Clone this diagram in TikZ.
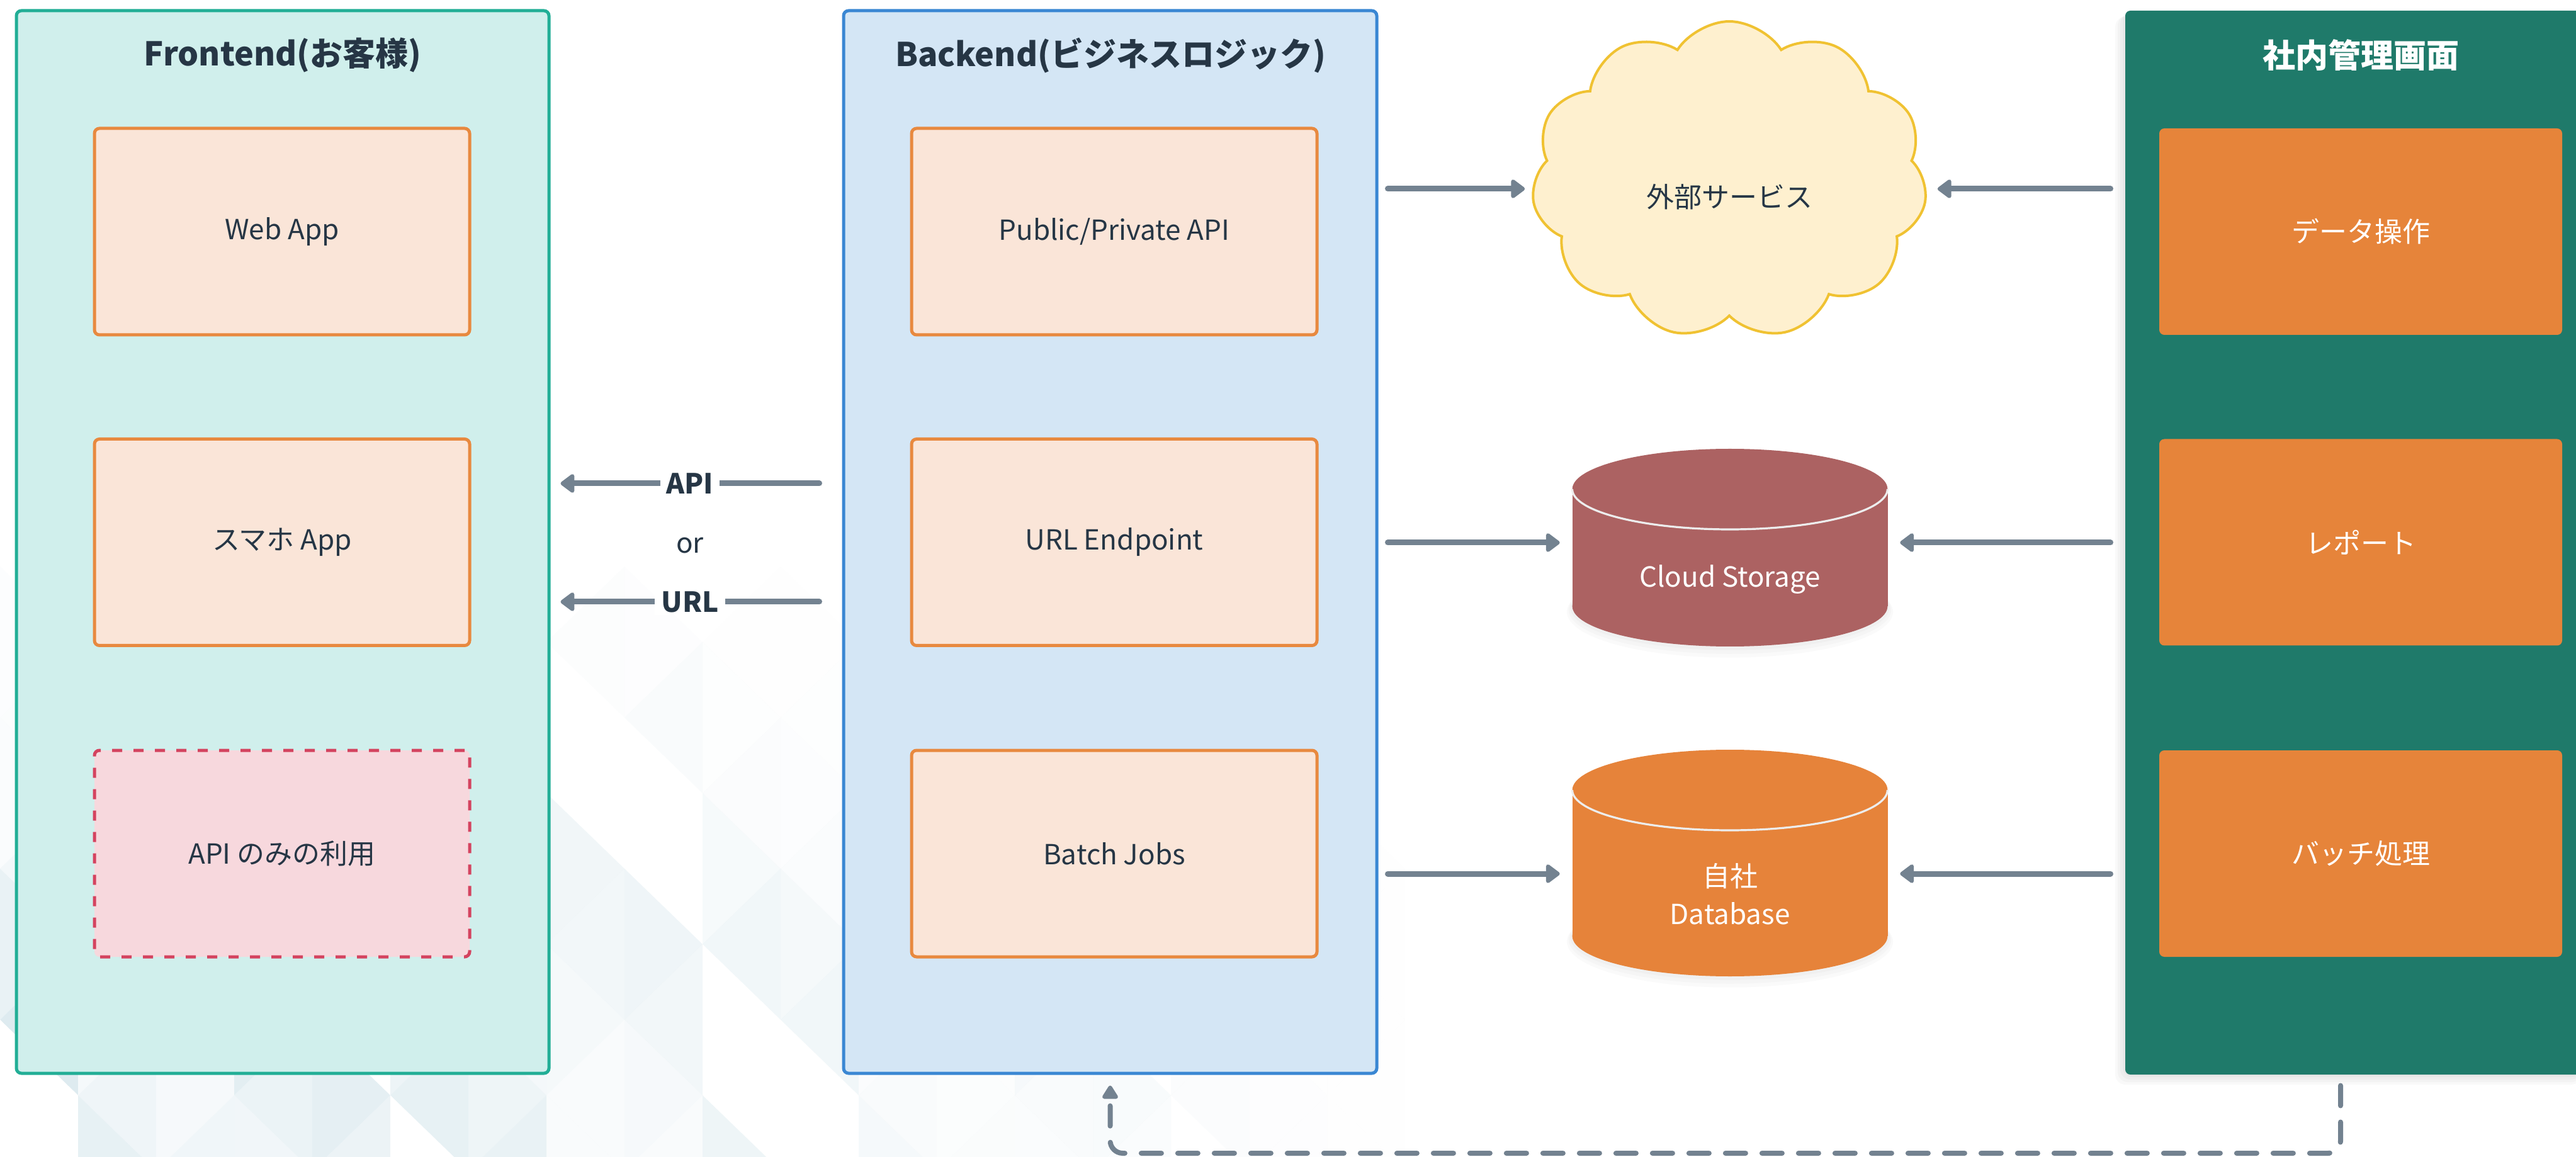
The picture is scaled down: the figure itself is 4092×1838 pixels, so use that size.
\documentclass[tikz,border=0pt]{standalone}
\usepackage{fontspec}
\setmainfont{Noto Sans CJK JP}
\usetikzlibrary{arrows.meta,shapes.symbols,calc}
\definecolor{txt}{HTML}{263645}
\definecolor{frfill}{HTML}{D0EFEC}
\definecolor{frline}{HTML}{22AE96}
\definecolor{bkfill}{HTML}{D4E6F5}
\definecolor{bkline}{HTML}{3A87D3}
\definecolor{boxfill}{HTML}{FAE5D8}
\definecolor{boxline}{HTML}{E8893F}
\definecolor{apifill}{HTML}{F7D8DD}
\definecolor{apiline}{HTML}{D4435F}
\definecolor{admfill}{HTML}{1F7A6A}
\definecolor{admbox}{HTML}{E6843A}
\definecolor{arrcol}{HTML}{738290}
\definecolor{cloudfill}{HTML}{FEF0CF}
\definecolor{cloudline}{HTML}{F0C232}
\definecolor{csfill}{HTML}{AC6262}
\definecolor{dbfill}{HTML}{E6833A}
\definecolor{rimcol}{HTML}{EDEDED}
\definecolor{tone0}{HTML}{FFFFFF}
\definecolor{tone1}{HTML}{EEF5F8}
\definecolor{tone2}{HTML}{E6F0F4}
\definecolor{tone3}{HTML}{DDEBF0}
\definecolor{tone4}{HTML}{F5F9FB}
\tikzset{
  ptitle/.style={font=\bfseries\fontsize{13pt}{15pt}\selectfont, text=txt, inner sep=0pt},
  lbl/.style={font=\fontsize{11pt}{13pt}\selectfont, text=txt},
  panelbox/.style={rounded corners=2pt, line width=1.25pt, minimum height=422pt, inner sep=0pt},
  inbox/.style={rounded corners=2pt, line width=1.25pt, minimum height=82pt, inner sep=0pt,
                font=\fontsize{11pt}{13pt}\selectfont, text=txt},
  admbx/.style={inbox, fill=admbox, minimum width=160pt, text=white},
  arr/.style={draw=arrcol, line width=2.25pt, line cap=round,
              -{Triangle[length=6pt,width=8.5pt,round]}},
  conlbl/.style={fill=white, inner xsep=2.5pt, inner ysep=1pt, text=txt,
                 font=\bfseries\fontsize{11pt}{13pt}\selectfont},
  dconn/.style={draw=arrcol, line width=2pt, line cap=round, rounded corners=5pt,
                dash pattern=on 8pt off 6.5pt, -{Triangle[length=6pt,width=7pt,round]}},
  hidden/.style={inner sep=0pt, draw=none},
}
\newcommand{\mycyl}[4]{%
  \fill[#4] (#1-250.5,#2) rectangle (#1+250.5,#3);
  \fill[#4] (#1,#3) ellipse [x radius=62.6pt, y radius=16pt];
  \fill[#4] (#1,#2) ellipse [x radius=62.6pt, y radius=16pt];
  \draw[rimcol, line width=0.8pt] (#1-250.5,#2) arc [start angle=180, end angle=360, x radius=62.6pt, y radius=16pt];
}
\begin{document}
\begin{tikzpicture}[x=0.25pt, y=-0.25pt]
\useasboundingbox (0,0) rectangle (4092,1838);
\fill[white] (0,0) rectangle (4092,1838);
% faint low-poly background
\begin{scope}
  \clip (0,900) rectangle (2400,1838);
  \foreach \i in {0,...,19} {
    \foreach \j in {-1,...,4} {
      \pgfmathsetmacro{\xl}{\i*124}
      \pgfmathsetmacro{\xr}{\xl+124}
      \pgfmathsetmacro{\yo}{900+\j*240+mod(\i,2)*120}
      \pgfmathtruncatemacro{\ta}{mod(\i*7+\j*3+31,5)}
      \pgfmathtruncatemacro{\tb}{mod(\i*3+\j*7+34,5)}
      \pgfmathsetmacro{\oa}{min(1,max(0,(\yo+120-930)/650))*max(0,1-(\xl+40)/2200)}
      \pgfmathsetmacro{\ob}{min(1,max(0,(\yo+240-930)/650))*max(0,1-(\xl+84)/2200)}
      \fill[color=tone\ta, fill opacity=\oa] (\xl,\yo) -- (\xl,\yo+240) -- (\xr,\yo+120) -- cycle;
      \fill[color=tone\tb, fill opacity=\ob] (\xr,\yo+120) -- (\xr,\yo+360) -- (\xl,\yo+240) -- cycle;
    }
  }
\end{scope}

% panels
\node[panelbox, draw=frline, fill=frfill, minimum width=211.5pt] (front) at (449,861) {};
\node[ptitle] (fronttitle) at (449,88) {Frontend(お客様)};
\node[inbox, draw=boxline, fill=boxfill, minimum width=149pt] (webapp) at (448,368) {Web App};
\node[inbox, draw=boxline, fill=boxfill, minimum width=149pt] (sumaho) at (448,861.5) {スマホ App};
\node[inbox, draw=apiline, fill=apifill, minimum width=149pt, dash pattern=on 4pt off 4.5pt] (apionly) at (448,1356) {API のみの利用};

\node[panelbox, draw=bkline, fill=bkfill, minimum width=211.75pt] (back) at (1763.5,861) {};
\node[ptitle] (backtitle) at (1764,88) {Backend(ビジネスロジック)};
\node[inbox, draw=boxline, fill=boxfill, minimum width=161pt] (pubapi) at (1770,368) {Public/Private API};
\node[inbox, draw=boxline, fill=boxfill, minimum width=161pt] (urlep) at (1770,861.5) {URL Endpoint};
\node[inbox, draw=boxline, fill=boxfill, minimum width=161pt] (batch) at (1770,1356) {Batch Jobs};

% soft shadow of admin panel
\foreach \s in {4,8,12,16} {
  \fill[black, fill opacity=0.025, rounded corners=4pt] (3376-\s,17+\s*0.6) rectangle (4100,1707+\s);
}
\node[panelbox, fill=admfill, minimum width=181pt, minimum height=422.5pt] (adm) at (3738,862) {};
\node[ptitle, text=white] (admtitle) at (3750,88) {社内管理画面};
\node[admbx] (dataop) at (3750,368) {データ操作};
\node[admbx] (report) at (3750,861.5) {レポート};
\node[admbx] (batchproc) at (3750,1356) {バッチ処理};

% external service cloud
\node[cloud, cloud puffs=11, cloud puff arc=115, aspect=1.25, fill=cloudfill, draw=cloudline,
      line width=1pt, minimum width=157pt, minimum height=126pt, inner sep=0pt] (cloud) at (2747,286) {};
\node[lbl] (cloudtxt) at (2747,313) {外部サービス};
\coordinate (cloudmid) at (2747,300);

% cylinders
\foreach \s in {6,12,18} {
  \fill[black, fill opacity=0.02] (2748,963+\s*0.5) ellipse [x radius=62.6pt+\s*0.12pt, y radius=16pt+\s*0.12pt];
  \fill[black, fill opacity=0.02] (2748,1487+\s*0.5) ellipse [x radius=62.6pt+\s*0.12pt, y radius=16pt+\s*0.12pt];
}
\mycyl{2748}{777}{963}{csfill}
\node[hidden, minimum width=125.25pt, minimum height=78.5pt] (cs) at (2748,870) {};
\node[lbl, text=white] (cstxt) at (2748,920) {Cloud Storage};
\coordinate (csmid) at (2748,862);

\mycyl{2748}{1255}{1487}{dbfill}
\node[hidden, minimum width=125.25pt, minimum height=89.5pt] (db) at (2748,1371) {};
\node[lbl, text=white, align=center] (dbtxt) at (2748,1420) {自社\\[2pt]Database};
\coordinate (dbmid) at (2748,1388);

% backend -> frontend
\draw[arr] ($(back.west)+(-36,-93)$) -- node[conlbl] (apilbl) {API} ($(front.east)+(16,-93)$);
\node[lbl] (ortxt) at (1096,867) {or};
\draw[arr] ($(back.west)+(-36,95)$) -- node[conlbl] (urllbl) {URL} ($(front.east)+(16,95)$);

% to externals
\draw[arr, shorten <=3.75pt, shorten >=3.5pt] (back.east |- cloudmid) -- (cloud.west |- cloudmid);
\draw[arr, shorten <=5.25pt, shorten >=5pt] (adm.west |- cloudmid) -- (cloud.east |- cloudmid);
\draw[arr, shorten <=3.75pt, shorten >=4.75pt] (back.east |- csmid) -- (cs.west |- csmid);
\draw[arr, shorten <=5.25pt, shorten >=4.75pt] (adm.west |- csmid) -- (cs.east |- csmid);
\draw[arr, shorten <=3.75pt, shorten >=4.75pt] (back.east |- dbmid) -- (db.west |- dbmid);
\draw[arr, shorten <=5.25pt, shorten >=4.75pt] (adm.west |- dbmid) -- (db.east |- dbmid);

% admin -> backend loop
\coordinate (loopy) at (0,1832);
\draw[dconn, shorten <=3.75pt, shorten >=4.25pt] ([xshift=-5pt]adm.south) |- (back.south |- loopy) -- (back.south);
\end{tikzpicture}
\end{document}
